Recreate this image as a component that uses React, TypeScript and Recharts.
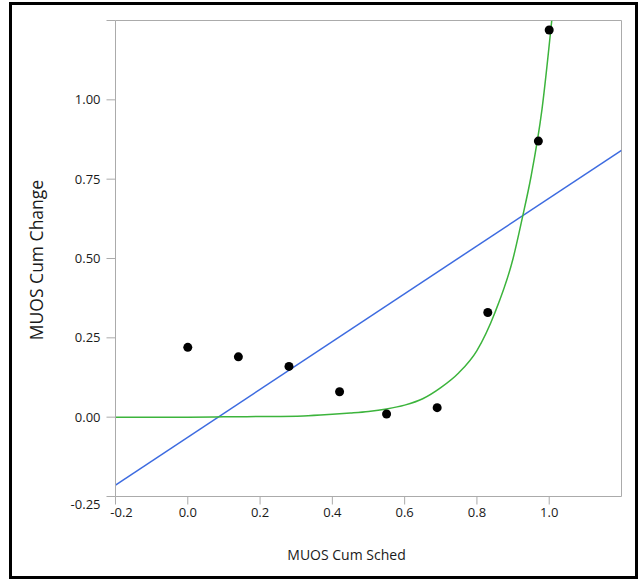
import React from "react";
import {
  ComposedChart,
  XAxis,
  YAxis,
  Scatter,
  Line,
  ReferenceLine,
} from "recharts";

// Observed data
const schedX = [0.0, 0.14, 0.28, 0.42, 0.55, 0.69, 0.83, 0.97, 1.0];
const changeY = [0.22, 0.19, 0.16, 0.08, 0.01, 0.03, 0.33, 0.87, 1.22];

// Linear fit (blue), read at the plot edges
const linFitX = [-0.2, 1.2];
const linFitY = [-0.214, 0.841];

// Exponential fit (green)
const expFitX = [-0.2, 0.0, 0.1, 0.2, 0.32, 0.4, 0.45, 0.5, 0.55, 0.6, 0.65, 0.7, 0.75, 0.8, 0.85, 0.9, 0.925, 0.95, 0.98, 1.007];
const expFitY = [0.0, 0.0, 0.001, 0.002, 0.004, 0.009, 0.013, 0.018, 0.026, 0.038, 0.058, 0.093, 0.14, 0.21, 0.33, 0.5, 0.625, 0.76, 0.97, 1.25];

// Axis ticks
const xTicks = [-0.2, 0.0, 0.2, 0.4, 0.6, 0.8, 1.0];
const yTicks = [-0.25, 0.0, 0.25, 0.5, 0.75, 1.0, 1.25];

const xTitle = "MUOS Cum Sched";
const yTitle = "MUOS Cum Change";

const points = schedX.map((x, i) => ({ x, y: changeY[i] }));
const linData = linFitX.map((x, i) => ({ x, y: linFitY[i] }));
const expData = expFitX.map((x, i) => ({ x, y: expFitY[i] }));

const FONT = "'Open Sans', 'Noto Sans', sans-serif";
const AXIS = "#ababab";
const TEXT = "#1a1a1a";

const XTick = (props: any) => {
  const { x, y, payload } = props;
  const v = payload.value as number;
  const dx = Math.abs(v + 0.2) < 1e-9 ? 6 : 0;
  return (
    <text x={x + dx} y={y} dy="0.71em" textAnchor="middle" fontFamily={FONT} fontSize={13} fill={TEXT}>
      {v.toFixed(1)}
    </text>
  );
};

const YTick = (props: any) => {
  const { x, y, payload } = props;
  const v = payload.value as number;
  if (v > 1.2) return <g />;
  const dy = Math.abs(v + 0.25) < 1e-9 ? 8 : 0;
  return (
    <text x={x} y={y + dy} dy="0.355em" textAnchor="end" fontFamily={FONT} fontSize={13} fill={TEXT}>
      {v.toFixed(2)}
    </text>
  );
};

const Dot = (props: any) => {
  const { cx, cy } = props;
  return <circle cx={cx} cy={cy} r={4.5} fill="#000" />;
};

export default function App() {
  return (
    <div style={{ position: "absolute", left: 0, top: 0, width: 641, height: 579, background: "#fff" }}>
      <div
        style={{
          position: "absolute",
          left: 9,
          top: 2,
          width: 629,
          height: 577,
          border: "3px solid #000",
          boxSizing: "border-box",
        }}
      />
      <div style={{ position: "absolute", left: 0, top: 0 }}>
        <ComposedChart
          width={641}
          height={579}
          margin={{ top: 20.5, right: 19.5, left: 55.5, bottom: 42.5 }}
        >
          <XAxis
            type="number"
            dataKey="x"
            domain={[-0.2, 1.2]}
            ticks={xTicks}
            allowDataOverflow
            height={40}
            stroke={AXIS}
            tickSize={8}
            tickMargin={3}
            tick={<XTick />}
            interval={0}
          />
          <YAxis
            type="number"
            dataKey="y"
            domain={[-0.25, 1.25]}
            ticks={yTicks}
            allowDataOverflow
            width={60}
            stroke={AXIS}
            tickSize={9}
            tickMargin={6}
            tick={<YTick />}
            interval={0}
          />
          <ReferenceLine y={1.25} stroke={AXIS} ifOverflow="extendDomain" />
          <ReferenceLine x={1.2} stroke={AXIS} ifOverflow="extendDomain" />
          <Line
            data={linData}
            dataKey="y"
            type="linear"
            stroke="#3d6be0"
            strokeWidth={1.5}
            dot={false}
            activeDot={false}
            isAnimationActive={false}
          />
          <Line
            data={expData}
            dataKey="y"
            type="monotone"
            stroke="#3cb43c"
            strokeWidth={1.5}
            dot={false}
            activeDot={false}
            isAnimationActive={false}
          />
          <Scatter data={points} dataKey="y" shape={<Dot />} isAnimationActive={false} />
        </ComposedChart>
      </div>
      <svg
        width={641}
        height={579}
        style={{ position: "absolute", left: 0, top: 0, pointerEvents: "none" }}
      >
        <text x={346.5} y={560} textAnchor="middle" fontFamily={FONT} fontSize={14} fill={TEXT}>
          {xTitle}
        </text>
        <text
          x={0}
          y={0}
          transform="translate(42.5 260) rotate(-90)"
          textAnchor="middle"
          fontFamily={FONT}
          fontSize={17.5}
          fill={TEXT}
        >
          {yTitle}
        </text>
      </svg>
    </div>
  );
}
